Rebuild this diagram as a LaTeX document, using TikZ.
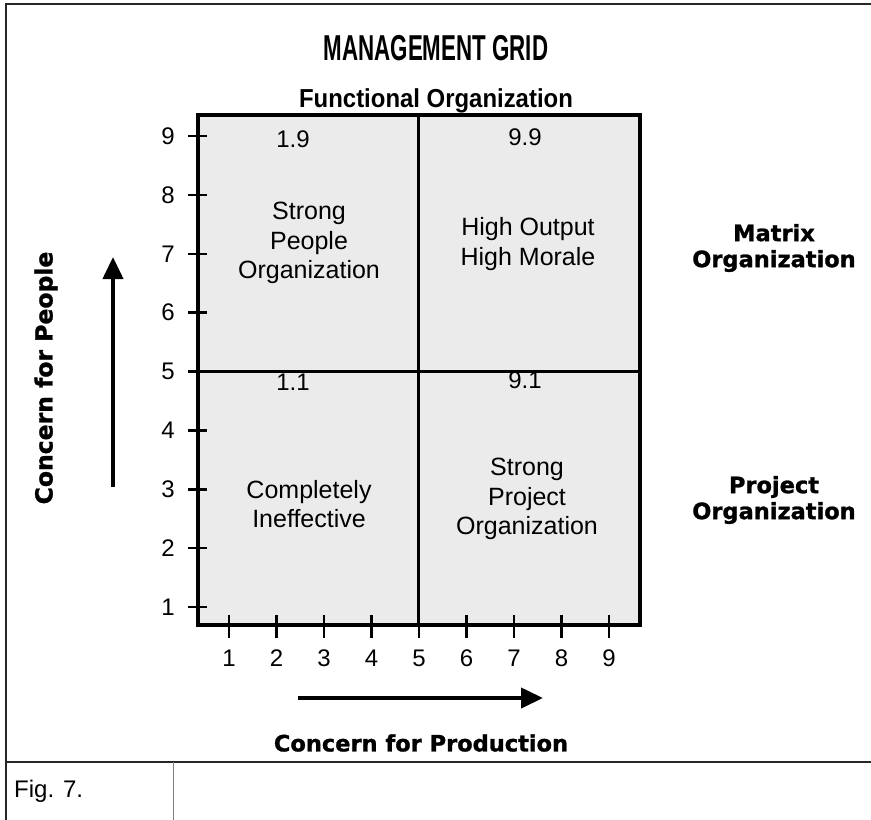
\documentclass[tikz,border=0pt]{standalone}
\usepackage{fontspec}
\setmainfont{Liberation Sans}
\newfontfamily\heavyfont[FakeBold=1.2]{DejaVu Sans Bold}
\usetikzlibrary{arrows.meta}

\begin{document}
\begin{tikzpicture}[
  x=1pt, y=-1pt,
  every node/.style={inner sep=0pt},
  frameline/.style={line width=2pt, black!85},
  gridbox/.style={line width=3.5pt, fill=black!8},
  midline/.style={line width=3pt},
  tickmark/.style={line width=2.5pt},
  ticklabel/.style={font=\fontsize{24}{28}\selectfont},
  quad/.style={align=center, font=\fontsize{25}{29.5}\selectfont},
  score/.style={font=\fontsize{24}{28}\selectfont},
  sidelabel/.style={align=center, font=\heavyfont\fontsize{22.5}{26}\selectfont},
  bigarrow/.style={line width=4pt, -{Triangle[length=22pt, width=20pt]}},
]
\useasboundingbox (0,0) rectangle (871,820);

% page frame
\draw[frameline] (6,820) -- (6,4) -- (871,4);
\draw[frameline] (6,762) -- (871,762);
\draw[line width=0.8pt, black!50] (173,762) -- (173,820);
\node[anchor=west, font=\fontsize{24}{28}\selectfont] (fig) at (14,791) {Fig. 7.};

% headings
\node[font=\bfseries\fontsize{36}{40}\selectfont] (title) at (436,48)
  {\scalebox{0.62}[1]{MANAGEMENT GRID}};
\node[font=\bfseries\fontsize{26}{30}\selectfont] (func) at (436,101)
  {\scalebox{0.92}[1]{Functional Organization}};

% grid
\draw[gridbox] (198,115) rectangle (640,625);
\draw[midline] (418,115) -- (418,625);
\draw[midline] (198,371) -- (640,371);

% axis ticks
\foreach \k in {1,...,9} {
  \pgfmathsetmacro{\yy}{607-(\k-1)*58.875}
  \draw[tickmark] (188,\yy) -- (207,\yy);
  \node[ticklabel] (ly\k) at (168,\yy) {\k};
}
\foreach \k in {1,...,9} {
  \pgfmathsetmacro{\xx}{229+(\k-1)*47.5}
  \draw[tickmark] (\xx,615) -- (\xx,638);
  \node[ticklabel] (lx\k) at (\xx,658) {\k};
}

% quadrants
\node[score] (s19) at (293,139) {1.9};
\node[score] (s99) at (525,137) {9.9};
\node[score] (s11) at (293,382) {1.1};
\node[score] (s91) at (525,380) {9.1};
\node[quad] (people) at (309,243) {Strong\\People\\Organization};
\node[quad] (high) at (528,244) {High Output\\High Morale};
\node[quad] (ineff) at (309,504) {Completely\\Ineffective};
\node[quad] (project) at (527,499) {Strong\\Project\\Organization};

% side labels
\node[sidelabel] (matrix) at (774,248) {Matrix\\Organization};
\node[sidelabel] (projorg) at (774,500) {Project\\Organization};

% axis arrows
\node[sidelabel, rotate=90, font=\heavyfont\fontsize{23.5}{26}\selectfont] (cpeople) at (46,378) {Concern for People};
\node[sidelabel] (cprod) at (421,743) {Concern for Production};
\coordinate (pTail) at (113,487);
\coordinate (pHead) at (113,257);
\coordinate (hTail) at (298,698);
\coordinate (hHead) at (543,698);
\draw[bigarrow] (pTail) -- (pHead);
\draw[bigarrow] (hTail) -- (hHead);
\end{tikzpicture}
\end{document}
